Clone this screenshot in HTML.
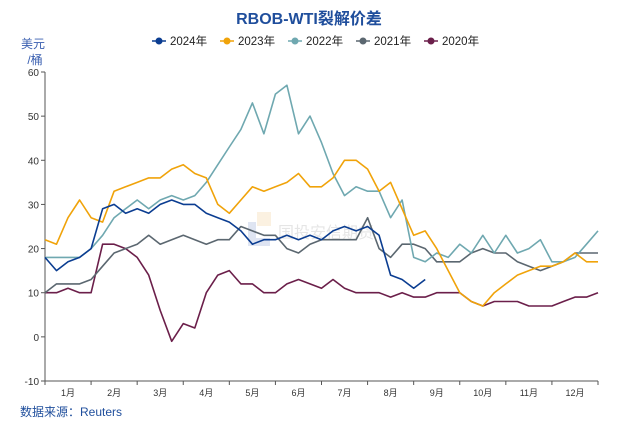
<!DOCTYPE html>
<html><head><meta charset="utf-8"><style>
body{margin:0;background:#fff;font-family:"Liberation Sans","Noto Sans CJK SC",sans-serif}
</style></head><body>
<svg id="chart" width="618" height="430" xmlns="http://www.w3.org/2000/svg" style="font-family:'Liberation Sans','Noto Sans CJK SC',sans-serif">
<text x="309" y="24" text-anchor="middle" font-size="16" font-weight="bold" fill="#1f4e9c">RBOB-WTI裂解价差</text>
<text x="33" y="48" text-anchor="middle" font-size="12" fill="#3a5fb0">美元</text>
<text x="35" y="64" text-anchor="middle" font-size="12" fill="#3a5fb0">/桶</text>
<g id="legend"></g>
<g opacity="0.25">
<rect x="248" y="222" width="22" height="24" fill="#7f98cc"/><rect x="256" y="222" width="14" height="16" fill="#fff"/><rect x="257" y="212" width="14" height="14" fill="#f3c98a"/>
<text x="278" y="238" font-size="16" fill="#999">国投安信期货</text>
</g>
<g id="axes"></g>
<g id="series"></g>
<text x="20" y="416" font-size="12" fill="#1f4e9c">数据来源：Reuters</text>
</svg>
<script>
const years=["2024年","2023年","2022年","2021年","2020年"];
const colors=["#0b3d91","#f0a30a","#6fa8b0","#5b6770","#6b1f4a"];
const months=["1月","2月","3月","4月","5月","6月","7月","8月","9月","10月","11月","12月"];
const yTicks=[-10,0,10,20,30,40,50,60];
const s2024=[18,15,17,18,20,29,30,28,29,28,30,31,30,30,28,27,26,24,21,22,22,23,22,23,22,24,25,24,25,23,14,13,11,13];
const s2023=[22,21,27,31,27,26,33,34,35,36,36,38,39,37,36,30,28,31,34,33,34,35,37,34,34,36,40,40,38,33,35,29,23,24,20,15,10,8,7,10,12,14,15,16,16,17,19,17,17];
const s2022=[18,18,18,18,20,23,27,29,31,29,31,32,31,32,35,39,43,47,53,46,55,57,46,50,44,37,32,34,33,33,27,31,18,17,19,18,21,19,23,19,23,19,20,22,17,17,18,21,24];
const s2021=[10,12,12,12,13,16,19,20,21,23,21,22,23,22,21,22,22,25,24,23,23,20,19,21,22,22,22,22,27,20,18,21,21,20,17,17,17,19,20,19,19,17,16,15,16,17,19,19,19];
const s2020=[10,10,11,10,10,21,21,20,18,14,6,-1,3,2,10,14,15,12,12,10,10,12,13,12,11,13,11,10,10,10,9,10,9,9,10,10,10,8,7,8,8,8,7,7,7,8,9,9,10];
const L=45,R=598,T=72,B=381,ymin=-10,ymax=60;
const xq=i=>L+(R-L)*(i/48);
const y=v=>B-(v-ymin)/(ymax-ymin)*(B-T);
const NS="http://www.w3.org/2000/svg";
function mk(tag,at,parent){const e=document.createElementNS(NS,tag);for(const k in at)e.setAttribute(k,at[k]);parent.appendChild(e);return e;}
const ax=document.getElementById('axes');
let e=mk('line',{x1:L,y1:T,x2:L,y2:B,stroke:'#555','stroke-width':1},ax);


e=mk('line',{x1:L,y1:B,x2:R,y2:B,stroke:'#555','stroke-width':1},ax);


yTicks.forEach(v=>{
 mk('line',{x1:L-4,y1:y(v),x2:L,y2:y(v),stroke:'#555'},ax);
 const t=mk('text',{x:L-6,y:y(v)+4,'text-anchor':'end','font-size':10,fill:'#333'},ax);
 t.textContent=v;
 
 
});
const mw=(R-L)/12;
for(let i=0;i<=12;i++) mk('line',{x1:L+i*mw,y1:B,x2:L+i*mw,y2:B+4,stroke:'#555'},ax);
months.forEach((m,i)=>{
 const t=mk('text',{x:L+(i+0.5)*mw,y:B+15,'text-anchor':'middle','font-size':9,fill:'#333'},ax);
 t.textContent=m;
 
 
});
const data=[s2024,s2023,s2022,s2021,s2020];
const sg=document.getElementById('series');
for(let k=data.length-1;k>=0;k--){
 const p=mk('path',{d:data[k].map((v,i)=>(i?'L':'M')+xq(i).toFixed(1)+','+y(v).toFixed(1)).join(''),fill:'none',stroke:colors[k],'stroke-width':1.6,'stroke-linejoin':'round'},sg);
 
 
}
const lg=document.getElementById('legend');
const lx=[152,220,288,356,424];
years.forEach((yr,i)=>{
 const g=mk('g',{},lg);
 
 
 mk('line',{x1:lx[i],y1:41,x2:lx[i]+14,y2:41,stroke:colors[i],'stroke-width':1.5},g);
 mk('circle',{cx:lx[i]+7,cy:41,r:3.5,fill:colors[i]},g);
 const t=mk('text',{x:lx[i]+18,y:45,'font-size':11.5,fill:'#222'},g);
 t.textContent=yr;
});
</script>
</body></html>
